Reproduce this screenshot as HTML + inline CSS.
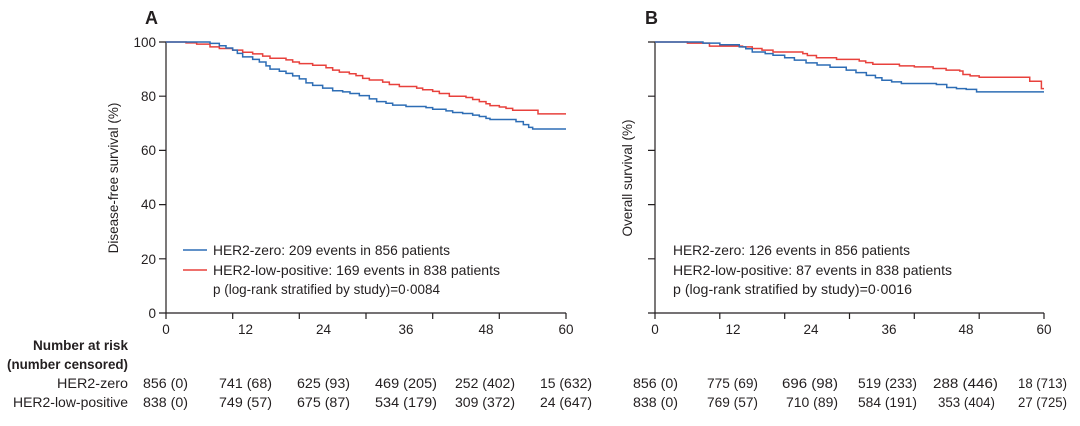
<!DOCTYPE html>
<html><head><meta charset="utf-8"><style>
body{margin:0;background:#fff;}
svg{display:block;font-family:"Liberation Sans",sans-serif;}
text{fill:#231f20;}
.t{font-size:13.5px;}
.r{font-size:14px;}
</style></head><body>
<svg width="1080" height="426" viewBox="0 0 1080 426">
<g stroke="#231f20" stroke-width="1.2" fill="none">
 <path d="M166 42V313H566"/>
 <path d="M159 42H166M159 96.2H166M159 150.4H166M159 204.6H166M159 258.8H166M159 313H166"/>
 <path d="M166 313v6M232.7 313v6M299.3 313v6M366 313v6M432.7 313v6M499.3 313v6M566 313v6"/>
 <path d="M655 42V313H1044"/>
 <path d="M648 42H655M648 96.2H655M648 150.4H655M648 204.6H655M648 258.8H655M648 313H655"/>
 <path d="M655 313v6M719.8 313v6M784.7 313v6M849.5 313v6M914.3 313v6M979.2 313v6M1044 313v6"/>
</g>
<text x="145" y="24" font-size="18" font-weight="bold">A</text>
<text x="645" y="24" font-size="18" font-weight="bold">B</text>
<g class="t" text-anchor="end">
 <text x="156" y="47">100</text><text x="156" y="101">80</text><text x="156" y="155">60</text>
 <text x="156" y="209">40</text><text x="156" y="264">20</text><text x="156" y="318">0</text>
</g>
<g class="t" text-anchor="middle">
 <text x="166" y="334">0</text><text x="245.5" y="334">12</text><text x="323.5" y="334">24</text>
 <text x="406" y="334">36</text><text x="486" y="334">48</text><text x="566" y="334">60</text>
 <text x="655" y="334">0</text><text x="733" y="334">12</text><text x="811" y="334">24</text>
 <text x="889" y="334">36</text><text x="966" y="334">48</text><text x="1044" y="334">60</text>
</g>
<text class="t" transform="translate(118,178) rotate(-90)" text-anchor="middle">Disease-free survival (%)</text>
<text class="t" transform="translate(632,178) rotate(-90)" text-anchor="middle">Overall survival (%)</text>
<g fill="none" stroke-width="1.5">
<g transform="translate(166,313) scale(6.6667,-2.71)">
 <path vector-effect="non-scaling-stroke" stroke="#e8413c" d="M0 100H3V99.7H4.6V99.2H6.6V98.2H8V97.6H10V97H11.5V96.2H13V95.6H14.5V94.8H15.6V94H18V93.4H19V92.6H20V92H22V91.4H24V90.5H25V89.6H26V88.9H27.5V88.3H28.5V87.6H29.5V86.6H30.5V86H32.5V85.2H33.5V84.3H35V83.6H37.6V83H38.5V82.4H40V81.8H41V81H42.5V80H45V79.5H46V78.8H47V78H48V77.2H48.6V76.5H50V76H51V75.5H52V74.8H55.8V73.5H60"/>
 <path vector-effect="non-scaling-stroke" stroke="#2d6db5" d="M0 100H6.6V99.5H8V98.6H9V97.8H10V97H10.7V95.8H11.5V94.5H13V93.6H14V92.6H15V91.2H15.6V90H17V89.2H18V88.4H19V87.5H20V86.4H21V84.9H22V84H23.5V83H25V82H26.5V81.6H27.6V81H29V80.2H30.5V79H31.6V78H33V77.4H34V76.7H36V76.2H39V75.8H40V75.2H42V74.6H43V74H44.5V73.6H46V73H47V72.5H48V71.8H48.6V71.4H52.5V70.6H53.6V69.5H54.4V68.5H55V67.9H60"/>
</g>
<g transform="translate(655,313) scale(6.4833,-2.71)">
 <path vector-effect="non-scaling-stroke" stroke="#e8413c" d="M0 100H5V99.6H8.4V98.5H13.5V98.2H15V97.6H16.5V97H18.2V96.3H22.8V95.7H23.5V95H24.9V94.2H28V93.6H31.5V93H32.5V92.4H33.6V91.8H37.7V91.2H40V90.8H42.9V90.2H44.9V89.6H47V89.3H47.5V88H48.6V87.5H50V87H57.8V85.5H59.6V82.8H60"/>
 <path vector-effect="non-scaling-stroke" stroke="#2d6db5" d="M0 100H7.4V99.6H10V99H13V98.2H14V97.5H15V96.3H17V95.7H18.2V95.1H20V94.2H21.5V93.3H23.3V92.3H25V91.5H27V90.7H29.5V89.6H31V88.7H32.6V87.7H34V86.8H35V85.9H36.5V85.3H38V84.7H43.4V84.3H45V83.2H46.5V82.8H48V82.5H49.6V81.6H60"/>
</g>
</g>
<path d="M183 250H207" stroke="#2d6db5" stroke-width="1.5"/>
<path d="M183 270H207" stroke="#e8413c" stroke-width="1.5"/>
<g class="r">
 <text x="213" y="255" textLength="237" lengthAdjust="spacingAndGlyphs">HER2-zero: 209 events in 856 patients</text>
 <text x="213" y="275" textLength="287" lengthAdjust="spacingAndGlyphs">HER2-low-positive: 169 events in 838 patients</text>
 <text x="213" y="294" textLength="227" lengthAdjust="spacingAndGlyphs">p (log-rank stratified by study)=0·0084</text>
 <text x="673" y="255" textLength="237" lengthAdjust="spacingAndGlyphs">HER2-zero: 126 events in 856 patients</text>
 <text x="673" y="275" textLength="279" lengthAdjust="spacingAndGlyphs">HER2-low-positive: 87 events in 838 patients</text>
 <text x="673" y="294" textLength="239" lengthAdjust="spacingAndGlyphs">p (log-rank stratified by study)=0·0016</text>
</g>
<g class="r">
 <text x="33" y="350" font-weight="bold" textLength="95" lengthAdjust="spacingAndGlyphs">Number at risk</text>
 <text x="7" y="369" font-weight="bold" textLength="121" lengthAdjust="spacingAndGlyphs">(number censored)</text>
 <text x="57" y="388" textLength="71" lengthAdjust="spacingAndGlyphs">HER2-zero</text>
 <text x="13" y="407" textLength="115" lengthAdjust="spacingAndGlyphs">HER2-low-positive</text>
</g>
<g class="r">
 <text x="143" y="388" textLength="45" lengthAdjust="spacingAndGlyphs">856 (0)</text>
 <text x="219" y="388" textLength="53" lengthAdjust="spacingAndGlyphs">741 (68)</text>
 <text x="297" y="388" textLength="53" lengthAdjust="spacingAndGlyphs">625 (93)</text>
 <text x="375" y="388" textLength="62" lengthAdjust="spacingAndGlyphs">469 (205)</text>
 <text x="455" y="388" textLength="60" lengthAdjust="spacingAndGlyphs">252 (402)</text>
 <text x="540" y="388" textLength="52" lengthAdjust="spacingAndGlyphs">15 (632)</text>
 <text x="143" y="407" textLength="45" lengthAdjust="spacingAndGlyphs">838 (0)</text>
 <text x="219" y="407" textLength="53" lengthAdjust="spacingAndGlyphs">749 (57)</text>
 <text x="297" y="407" textLength="53" lengthAdjust="spacingAndGlyphs">675 (87)</text>
 <text x="375" y="407" textLength="62" lengthAdjust="spacingAndGlyphs">534 (179)</text>
 <text x="455" y="407" textLength="60" lengthAdjust="spacingAndGlyphs">309 (372)</text>
 <text x="540" y="407" textLength="52" lengthAdjust="spacingAndGlyphs">24 (647)</text>
 <text x="633" y="388" textLength="45" lengthAdjust="spacingAndGlyphs">856 (0)</text>
 <text x="707" y="388" textLength="51" lengthAdjust="spacingAndGlyphs">775 (69)</text>
 <text x="782" y="388" textLength="56" lengthAdjust="spacingAndGlyphs">696 (98)</text>
 <text x="858" y="388" textLength="59" lengthAdjust="spacingAndGlyphs">519 (233)</text>
 <text x="933" y="388" textLength="65" lengthAdjust="spacingAndGlyphs">288 (446)</text>
 <text x="1018" y="388" textLength="49" lengthAdjust="spacingAndGlyphs">18 (713)</text>
 <text x="633" y="407" textLength="45" lengthAdjust="spacingAndGlyphs">838 (0)</text>
 <text x="707" y="407" textLength="51" lengthAdjust="spacingAndGlyphs">769 (57)</text>
 <text x="786" y="407" textLength="52" lengthAdjust="spacingAndGlyphs">710 (89)</text>
 <text x="858" y="407" textLength="59" lengthAdjust="spacingAndGlyphs">584 (191)</text>
 <text x="938" y="407" textLength="57" lengthAdjust="spacingAndGlyphs">353 (404)</text>
 <text x="1018" y="407" textLength="49" lengthAdjust="spacingAndGlyphs">27 (725)</text>
</g>
</svg>
</body></html>
